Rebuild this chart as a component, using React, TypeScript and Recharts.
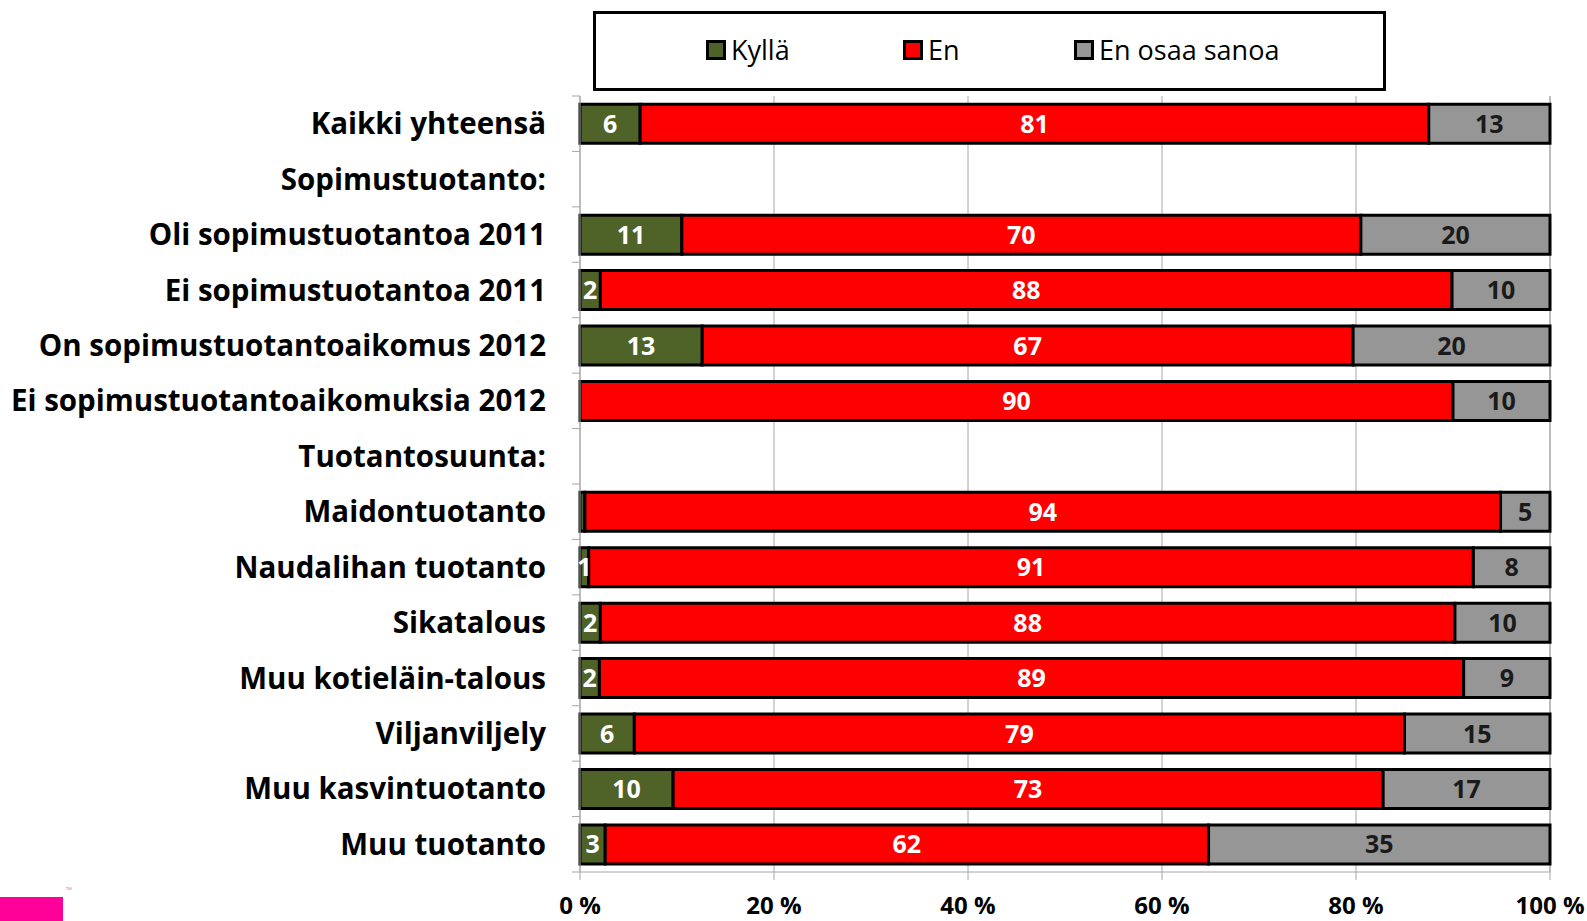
import React from "react";
import {
  BarChart,
  Bar,
  XAxis,
  YAxis,
  CartesianGrid,
  LabelList,
} from "recharts";

const categories = [
  "Kaikki yhteensä",
  "Sopimustuotanto:",
  "Oli sopimustuotantoa 2011",
  "Ei sopimustuotantoa 2011",
  "On sopimustuotantoaikomus 2012",
  "Ei sopimustuotantoaikomuksia 2012",
  "Tuotantosuunta:",
  "Maidontuotanto",
  "Naudalihan tuotanto",
  "Sikatalous",
  "Muu kotieläin-talous",
  "Viljanviljely",
  "Muu kasvintuotanto",
  "Muu tuotanto",
];

// share of answers, %
const kylla = [6.2, null, 10.5, 2.1, 12.6, 0, null, 0.5, 0.9, 2.1, 2.0, 5.6, 9.6, 2.6];
const en = [81.3, null, 70.0, 87.8, 67.1, 90.0, null, 94.4, 91.2, 88.1, 89.1, 79.4, 73.2, 62.2];
const eos = [12.5, null, 19.5, 10.1, 20.3, 10.0, null, 5.1, 7.9, 9.8, 8.9, 15.0, 17.2, 35.2];

const xTicks = [0, 20, 40, 60, 80, 100];

const series = [
  { key: "kylla", name: "Kyllä", color: "#4f6228", text: "#ffffff" },
  { key: "en", name: "En", color: "#ff0000", text: "#ffffff" },
  { key: "eos", name: "En osaa sanoa", color: "#969696", text: "#1a1a1a" },
];

const data = categories.map((name, i) => ({
  name,
  kylla: kylla[i],
  en: en[i],
  eos: eos[i],
}));

const FONT = "'Open Sans', 'Noto Sans', sans-serif";
const W = 1587;
const H = 921;
const PLOT_LEFT = 580;
const PLOT_RIGHT = 1550;
const PLOT_TOP = 96;
const PLOT_BOTTOM = 872;
const BAND = (PLOT_BOTTOM - PLOT_TOP) / categories.length;

const makeLabel = (fill: string) => (props: any) => {
  const { x, y, width, height, value } = props;
  if (value == null || value < 0.8) return null;
  return (
    <text
      x={x + width / 2}
      y={y + height / 2 - 1}
      textAnchor="middle"
      dominantBaseline="central"
      fill={fill}
      fontFamily={FONT}
      fontWeight={700}
      fontSize={25}
    >
      {Math.round(value)}
    </text>
  );
};

const CategoryTick = (props: any) => {
  const { y, payload, index } = props;
  return (
    <g>
      <text
        x={PLOT_LEFT - 34}
        y={y - 1}
        textAnchor="end"
        dominantBaseline="central"
        fill="#000"
        fontFamily={FONT}
        fontWeight={700}
        fontSize={29.5}
      >
        {payload.value}
      </text>
      {index === 0 && (
        <line x1={PLOT_LEFT - 8} x2={PLOT_LEFT} y1={y - BAND / 2} y2={y - BAND / 2} stroke="#a6a6a6" />
      )}
      <line x1={PLOT_LEFT - 8} x2={PLOT_LEFT} y1={y + BAND / 2} y2={y + BAND / 2} stroke="#a6a6a6" />
    </g>
  );
};

function LegendBox() {
  return (
    <div
      style={{
        position: "absolute",
        left: 593,
        top: 11,
        width: 787,
        height: 74,
        border: "3px solid #000",
        background: "#fff",
        fontFamily: FONT,
        fontSize: 27,
      }}
    >
      {series.map((s, i) => (
        <div
          key={s.key}
          style={{
            position: "absolute",
            left: [110, 307, 478][i],
            top: 20,
            display: "flex",
            alignItems: "center",
            lineHeight: "32px",
          }}
        >
          <span
            style={{
              display: "inline-block",
              width: 14,
              height: 14,
              border: "3px solid #000",
              background: s.color,
              marginRight: 5,
            }}
          />
          <span>{s.name}</span>
        </div>
      ))}
    </div>
  );
}

export default function App() {
  return (
    <div style={{ position: "absolute", left: 0, top: 0, width: W, height: H, background: "#fff" }}>
      <BarChart
        width={W}
        height={H}
        data={data}
        layout="vertical"
        barCategoryGap="15%"
        margin={{ top: PLOT_TOP, right: W - PLOT_RIGHT, bottom: 4, left: 0 }}
      >
        <CartesianGrid horizontal={false} stroke="#a6a6a6" />
        <XAxis
          type="number"
          domain={[0, 100]}
          ticks={xTicks}
          tickFormatter={(v) => `${v} %`}
          axisLine={{ stroke: "#a6a6a6" }}
          tickLine={{ stroke: "#a6a6a6" }}
          tickSize={8}
          height={45}
          tick={{ fill: "#000", fontFamily: FONT, fontWeight: 700, fontSize: 24, dy: 15 }}
        />
        <YAxis
          type="category"
          dataKey="name"
          width={PLOT_LEFT}
          axisLine={{ stroke: "#a6a6a6" }}
          tickLine={false}
          interval={0}
          tick={<CategoryTick />}
        />
        {series.map((s) => (
          <Bar
            key={s.key}
            dataKey={s.key}
            name={s.name}
            stackId="a"
            fill={s.color}
            stroke="#000"
            strokeWidth={3}
            isAnimationActive={false}
          >
            <LabelList dataKey={s.key} content={makeLabel(s.text)} />
          </Bar>
        ))}
      </BarChart>
      <LegendBox />
      <div style={{ position: "absolute", left: 0, top: 897, width: 63, height: 24, background: "#ff0099" }} />
      <div style={{ position: "absolute", left: 66, top: 884, fontSize: 8, color: "#e080b0", fontFamily: FONT }}>™</div>
    </div>
  );
}
